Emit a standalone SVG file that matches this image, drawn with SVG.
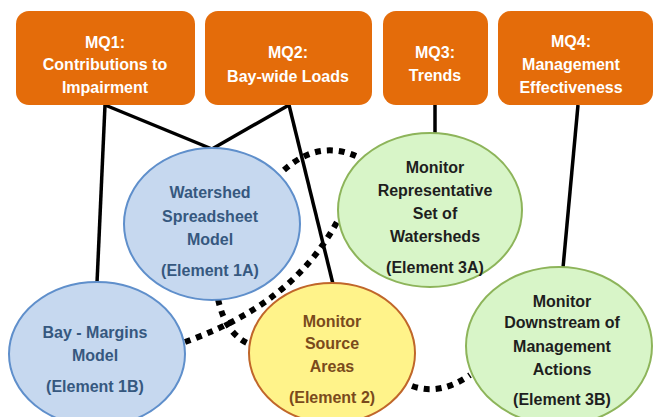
<svg xmlns="http://www.w3.org/2000/svg" width="655" height="417" viewBox="0 0 655 417">
<style>
.box{fill:#E46C0A;}
.bt{fill:#FFFFFF;font-family:"Liberation Sans",Arial,sans-serif;font-weight:bold;font-size:16px;text-anchor:middle;}
.t{font-family:"Liberation Sans",Arial,sans-serif;font-weight:bold;font-size:16px;text-anchor:middle;}
.blue{fill:#C6D8EF;stroke:#5F8FCB;stroke-width:2;}
.yel{fill:#FFF38A;stroke:#C0662A;stroke-width:2;}
.grn{fill:#D8F5C8;stroke:#8DB45A;stroke-width:2;}
.bluet{fill:#36587F;}
.yelt{fill:#7A4A1C;}
.grnt{fill:#1E1E1E;}
.solid{fill:none;stroke:#000;stroke-width:3.5;}
.dot{fill:none;stroke:#000;stroke-width:6;stroke-dasharray:6 6;}
</style>
<rect width="655" height="417" fill="#FFFFFF"/>
<g id="connectors">
<path class="solid" d="M105 105 L97 283"/>
<path class="solid" d="M105 105 L212 149"/>
<path class="solid" d="M289 105 L212 149"/>
<path class="solid" d="M289 105 L333 284"/>
<path class="solid" d="M435 105 L435 134"/>
<path class="solid" d="M578 105 L563 268"/>
<path class="dot" d="M284 170 Q320 138 360 158"/>
<path class="dot" d="M185 342 C235 324 300 292 338 220"/>
<path class="dot" d="M218 299 Q226 336 252 345"/>
<path class="dot" d="M412 386 Q440 396 470 375"/>
</g>
<g id="mq1">
<rect class="box" x="16" y="11" width="179" height="94" rx="13"/>
<text class="bt" x="105" y="48">MQ1:</text>
<text class="bt" x="105" y="70">Contributions to</text>
<text class="bt" x="105" y="93">Impairment</text>
</g>
<g id="mq2">
<rect class="box" x="205" y="11" width="167" height="94" rx="13"/>
<text class="bt" x="288" y="58">MQ2:</text>
<text class="bt" x="288" y="82">Bay-wide Loads</text>
</g>
<g id="mq3">
<rect class="box" x="383" y="11" width="105" height="94" rx="13"/>
<text class="bt" x="435" y="58">MQ3:</text>
<text class="bt" x="435" y="81">Trends</text>
</g>
<g id="mq4">
<rect class="box" x="498" y="11" width="155" height="94" rx="13"/>
<text class="bt" x="571" y="47">MQ4:</text>
<text class="bt" x="571" y="70">Management</text>
<text class="bt" x="571" y="93">Effectiveness</text>
</g>
<g id="element1a">
<ellipse class="blue" cx="212" cy="224" rx="88" ry="76"/>
<text class="t bluet" x="210" y="198">Watershed</text>
<text class="t bluet" x="210" y="222">Spreadsheet</text>
<text class="t bluet" x="210" y="245">Model</text>
<text class="t bluet" x="210" y="276">(Element  1A)</text>
</g>
<g id="element3a">
<ellipse class="grn" cx="430" cy="210" rx="92" ry="77"/>
<text class="t grnt" x="435" y="173">Monitor</text>
<text class="t grnt" x="435" y="196">Representative</text>
<text class="t grnt" x="435" y="219">Set of</text>
<text class="t grnt" x="435" y="242">Watersheds</text>
<text class="t grnt" x="435" y="273">(Element  3A)</text>
</g>
<g id="element1b">
<ellipse class="blue" cx="97" cy="354" rx="88" ry="72"/>
<text class="t bluet" x="95" y="338">Bay - Margins</text>
<text class="t bluet" x="95" y="361">Model</text>
<text class="t bluet" x="95" y="392">(Element  1B)</text>
</g>
<g id="element2">
<ellipse class="yel" cx="332" cy="353" rx="83" ry="70"/>
<text class="t yelt" x="332" y="327">Monitor</text>
<text class="t yelt" x="332" y="349">Source</text>
<text class="t yelt" x="332" y="372">Areas</text>
<text class="t yelt" x="332" y="403">(Element  2)</text>
</g>
<g id="element3b">
<ellipse class="grn" cx="559" cy="346" rx="93" ry="79"/>
<text class="t grnt" x="562" y="307">Monitor</text>
<text class="t grnt" x="562" y="328">Downstream of</text>
<text class="t grnt" x="562" y="352">Management</text>
<text class="t grnt" x="562" y="375">Actions</text>
<text class="t grnt" x="562" y="405">(Element  3B)</text>
</g>
</svg>
